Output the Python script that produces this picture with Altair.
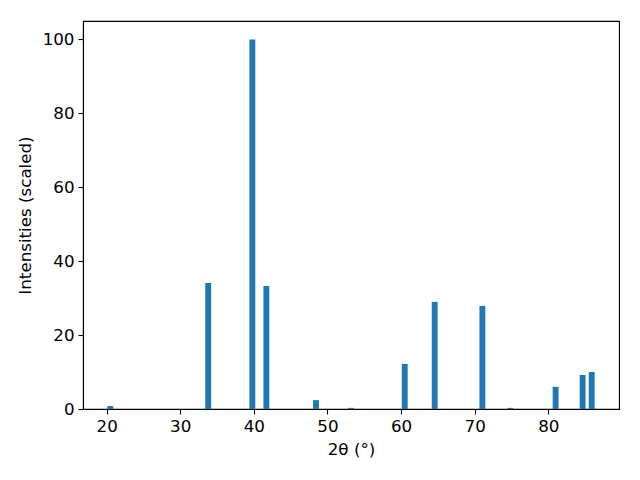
import altair as alt
import pandas as pd

two_theta = [20.5, 33.8, 39.8, 41.7, 48.45, 53.2, 60.5, 64.57, 71.05, 74.85, 81.0, 84.67, 85.9]
intensity = [0.8, 34.1, 100.0, 33.3, 2.4, 0.3, 12.2, 29.0, 27.9, 0.3, 6.0, 9.2, 10.0]
bar_width = 0.8

df = pd.DataFrame({"pos": two_theta, "val": intensity})
df["x0"] = df["pos"] - bar_width / 2
df["x1"] = df["pos"] + bar_width / 2
df["base"] = 0.0

font = "DejaVu Sans"
fs = 16.7

chart = alt.Chart(df).mark_bar(color="#1f77b4").encode(
    x=alt.X("x0:Q", scale=alt.Scale(domain=[16.79, 89.61], nice=False, zero=False, padding=0),
            axis=alt.Axis(values=[20, 30, 40, 50, 60, 70, 80], title="2θ (°)", grid=False,
                          format="d", titleFontSize=fs, titleFont=font, titlePadding=7)),
    x2="x1:Q",
    y=alt.Y("val:Q", scale=alt.Scale(domain=[0, 105], nice=False, padding=0),
            axis=alt.Axis(values=[0, 20, 40, 60, 80, 100], title="Intensities (scaled)", grid=False,
                          titleFontSize=fs, titleFont=font, titlePadding=8)),
    y2="base:Q",
).properties(
    width=536, height=388,
    autosize=alt.AutoSizeParams(type="none"),
    padding={"left": 75, "top": 13, "right": 13, "bottom": 63},
).configure_view(
    stroke="black", strokeWidth=1.1
).configure_axis(
    domainColor="black", domainWidth=1.1,
    tickColor="black", tickWidth=1.1, tickSize=5,
    labelFont=font, labelFontSize=16.7, labelColor="black", labelPadding=4,
    titleColor="black", titleFontWeight="normal",
)

chart.save("out.html", embed_options={"renderer": "svg", "actions": False})
